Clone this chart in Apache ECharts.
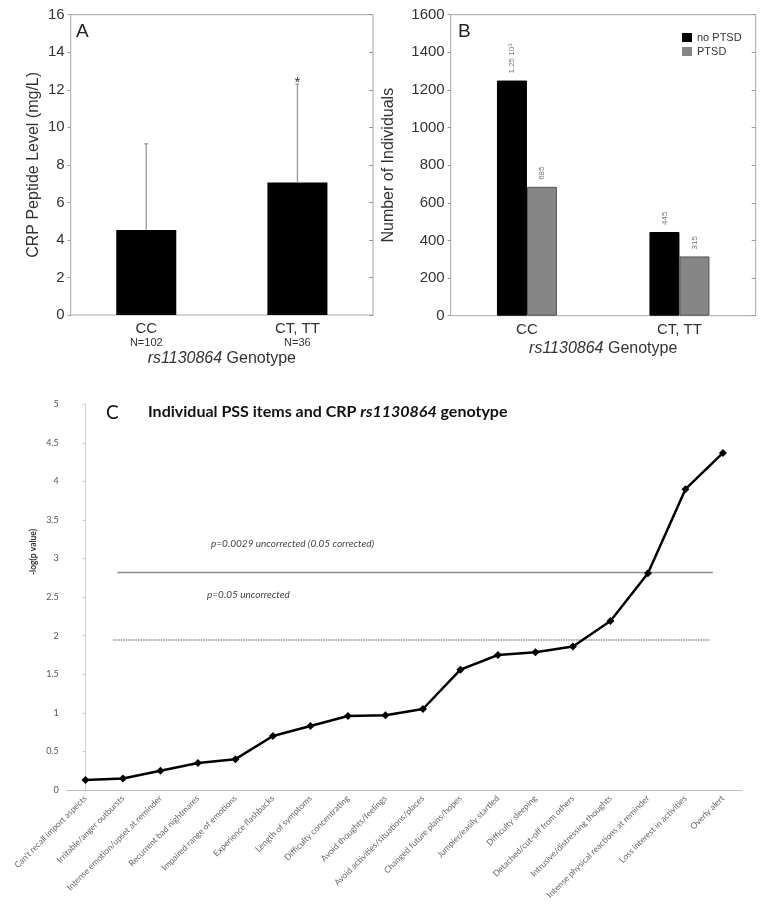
<!DOCTYPE html>
<html><head><meta charset="utf-8">
<script src="https://cdn.jsdelivr.net/npm/echarts@6/dist/echarts.min.js"></script>
<style>html,body{margin:0;padding:0;background:#fff}#c{width:762px;height:919px}</style>
</head><body><div id="c"></div>
<script>
// ---- Panel A data ----
const genotypes = ['CC', 'CT, TT'];
const sampleSizes = ['N=102', 'N=36'];
const crpMean = [4.53, 7.06];
const crpUpper = [9.12, 12.3];
const crpSig = ['', '*'];
// ---- Panel B data ----
const groupNames = ['no PTSD', 'PTSD'];
const countNoPTSD = [1250, 445];
const countPTSD = [685, 315];
// ---- Panel C data ----
const pssItems = [
  "Can't recall import aspects", 'Irritable/anger outbursts', 'Intense emotion/upset at reminder',
  'Recurrent bad nightmares', 'Impaired range of emotions', 'Experience flashbacks',
  'Length of symptoms', 'Difficulty concentrating', 'Avoid thoughts/feelings',
  'Avoid activities/situations/places', 'Changed future plans/hopes', 'Jumpier/easily startled',
  'Difficulty sleeping', 'Detached/cut-off from others', 'Intrusive/distressing thoughts',
  'Intense physical reactions at reminder', 'Loss interest in activities', 'Overly alert'
];
const pssLogP = [0.13, 0.15, 0.25, 0.35, 0.40, 0.70, 0.83, 0.96, 0.97, 1.05, 1.56, 1.75, 1.785, 1.86, 2.19, 2.81, 3.90, 4.37];
const thresholdCorrected = 2.82;
const thresholdUncorrected = 1.945;
const thresholdCorrectedSpan = [0.85, 16.73];
const thresholdUncorrectedSpan = [0.74, 16.64];

const AF = 'Liberation Sans, Arial, sans-serif';
const CF = 'Lato, Open Sans, sans-serif';
const chart = echarts.init(document.getElementById('c'), null, {renderer: 'canvas'});

const boxGrid = {show: true, borderColor: '#a8a8a8', borderWidth: 1, backgroundColor: 'transparent'};

const option = {
  animation: false,
  backgroundColor: '#fff',
  grid: [
    Object.assign({left: 70.7, top: 14.7, width: 302.3, height: 300.3}, boxGrid),
    Object.assign({left: 450.7, top: 14.7, width: 305, height: 301}, boxGrid),
    {left: 66.7, top: 404.3, width: 675, height: 385.7}
  ],
  legend: {
    data: groupNames, orient: 'vertical', left: 677, top: 27, itemWidth: 10, itemHeight: 9, itemGap: 3,
    itemStyle: {borderWidth: 0},
    textStyle: {fontFamily: AF, fontSize: 11, color: '#333'}, icon: 'rect'
  },
  xAxis: [
    {gridIndex: 0, type: 'category', data: genotypes,
      axisLine: {show: false}, axisTick: {inside: true, length: 4, lineStyle: {color: '#999'}},
      axisLabel: {margin: 6, interval: 0,
        formatter: (v, i) => '{a|' + v + '}\n{b|' + sampleSizes[i] + '}',
        rich: {a: {fontFamily: AF, fontSize: 15, lineHeight: 15, color: '#333'},
               b: {fontFamily: AF, fontSize: 11, lineHeight: 13, color: '#333'}}},
      name: '{i|rs1130864} Genotype', nameLocation: 'middle', nameGap: 36,
      nameTextStyle: {fontFamily: AF, fontSize: 16, color: '#333',
        rich: {i: {fontFamily: AF, fontSize: 16, fontStyle: 'italic', color: '#333'}}}},
    {gridIndex: 0, type: 'category', data: genotypes, position: 'top',
      axisLine: {show: false}, axisLabel: {show: false}, axisTick: {inside: true, length: 4, lineStyle: {color: '#999'}}},
    {gridIndex: 1, type: 'category', data: genotypes,
      axisLine: {show: false}, axisTick: {inside: true, length: 4, lineStyle: {color: '#999'}},
      axisLabel: {margin: 7, fontFamily: AF, fontSize: 15, color: '#333'},
      name: '{i|rs1130864} Genotype', nameLocation: 'middle', nameGap: 25,
      nameTextStyle: {fontFamily: AF, fontSize: 16, color: '#333',
        rich: {i: {fontFamily: AF, fontSize: 16, fontStyle: 'italic', color: '#333'}}}},
    {gridIndex: 1, type: 'category', data: genotypes, position: 'top',
      axisLine: {show: false}, axisLabel: {show: false}, axisTick: {inside: true, length: 4, lineStyle: {color: '#999'}}},
    {gridIndex: 2, type: 'category', data: pssItems, boundaryGap: true,
      axisLine: {lineStyle: {color: '#bdbdbd', width: 1}},
      axisTick: {length: 4, lineStyle: {color: '#bdbdbd'}},
      axisLabel: {rotate: 45, interval: 0, margin: 7, fontFamily: CF, fontSize: 8.5, color: '#666'}},
    {gridIndex: 2, type: 'value', min: -0.5, max: 17.5, show: false}
  ],
  yAxis: [
    {gridIndex: 0, type: 'value', min: 0, max: 16, interval: 2,
      axisLine: {show: false}, axisTick: {show: true, length: 3, lineStyle: {color: '#999'}},
      splitLine: {show: false},
      axisLabel: {fontFamily: AF, fontSize: 15, color: '#333', margin: 6},
      name: 'CRP Peptide Level (mg/L)', nameLocation: 'middle', nameGap: 29,
      nameTextStyle: {fontFamily: AF, fontSize: 16, color: '#333'}},
    {gridIndex: 0, type: 'value', min: 0, max: 16, interval: 2, position: 'right',
      axisLine: {show: false}, axisLabel: {show: false}, splitLine: {show: false},
      axisTick: {show: true, inside: true, length: 4, lineStyle: {color: '#999'}}},
    {gridIndex: 1, type: 'value', min: 0, max: 1600, interval: 200,
      axisLine: {show: false}, axisTick: {show: true, length: 3, lineStyle: {color: '#999'}},
      splitLine: {show: false},
      axisLabel: {fontFamily: AF, fontSize: 15, color: '#333', margin: 6, formatter: v => String(v)},
      name: 'Number of Individuals', nameLocation: 'middle', nameGap: 54,
      nameTextStyle: {fontFamily: AF, fontSize: 16, color: '#333'}},
    {gridIndex: 1, type: 'value', min: 0, max: 1600, interval: 200, position: 'right',
      axisLine: {show: false}, axisLabel: {show: false}, splitLine: {show: false},
      axisTick: {show: true, inside: true, length: 4, lineStyle: {color: '#999'}}},
    {gridIndex: 2, type: 'value', min: 0, max: 5, interval: 0.5,
      axisLine: {show: true, lineStyle: {color: '#d0d0d0'}},
      axisTick: {show: true, length: 3, lineStyle: {color: '#d0d0d0'}},
      splitLine: {show: false},
      axisLabel: {fontFamily: CF, fontSize: 9, color: '#555', margin: 8}}
  ],
  series: [
    {type: 'bar', xAxisIndex: 0, yAxisIndex: 0, data: crpMean, barWidth: 60,
      itemStyle: {color: '#000'}, z: 2},
    {type: 'custom', xAxisIndex: 0, yAxisIndex: 0, z: 3,
      data: genotypes.map((g, i) => [i, crpMean[i], crpUpper[i]]),
      renderItem: (params, api) => {
        const b = api.coord([api.value(0), api.value(1)]);
        const t = api.coord([api.value(0), api.value(2)]);
        const ch = [
          {type: 'line', shape: {x1: b[0], y1: b[1], x2: b[0], y2: t[1]}, style: {stroke: '#9a9a9a', lineWidth: 1.3}},
          {type: 'line', shape: {x1: b[0] - 2, y1: t[1], x2: b[0] + 2, y2: t[1]}, style: {stroke: '#9a9a9a', lineWidth: 1.3}}
        ];
        const s = crpSig[params.dataIndex];
        if (s) ch.push({type: 'text', x: b[0], y: t[1] + 6, style: {text: s, textAlign: 'center', align: 'center',
          textVerticalAlign: 'bottom', verticalAlign: 'bottom', fontSize: 15, fontFamily: AF, fill: '#333'}});
        return {type: 'group', children: ch};
      }},
    {type: 'bar', name: groupNames[0], xAxisIndex: 2, yAxisIndex: 2, data: countNoPTSD, barWidth: 30, barGap: '0%',
      itemStyle: {color: '#000', borderColor: '#000', borderWidth: 1},
      label: {show: true, position: 'top', rotate: 90, align: 'left', verticalAlign: 'middle', distance: 7,
        fontFamily: AF, fontSize: 8, color: '#777',
        formatter: p => p.value >= 1000 ? (p.value / 1000).toFixed(2) + ' 10{s|3}' : String(p.value),
        rich: {s: {fontFamily: AF, fontSize: 6, color: '#777', verticalAlign: 'top', padding: [0, 0, 4, 0]}}}},
    {type: 'bar', name: groupNames[1], xAxisIndex: 2, yAxisIndex: 2, data: countPTSD, barWidth: 30, barGap: '0%',
      itemStyle: {color: '#868686', borderColor: '#555', borderWidth: 1},
      label: {show: true, position: 'top', rotate: 90, align: 'left', verticalAlign: 'middle', distance: 7,
        fontFamily: AF, fontSize: 8, color: '#777'}},
    {type: 'line', xAxisIndex: 5, yAxisIndex: 4, symbol: 'none', silent: true,
      data: thresholdCorrectedSpan.map(x => [x, thresholdCorrected]),
      lineStyle: {color: '#8c8c8c', width: 1.6}},
    {type: 'line', xAxisIndex: 5, yAxisIndex: 4, symbol: 'none', silent: true,
      data: thresholdUncorrectedSpan.map(x => [x, thresholdUncorrected]),
      lineStyle: {color: '#8c8c8c', width: 1.6, type: [1.5, 1]}},
    {type: 'line', xAxisIndex: 4, yAxisIndex: 4, data: pssLogP, symbol: 'diamond', symbolSize: 8,
      lineStyle: {color: '#000', width: 2.5}, itemStyle: {color: '#000'}, z: 5}
  ],
  graphic: [
    {type: 'text', left: 76, top: 22, style: {text: 'A', fontFamily: AF, fontSize: 19, fill: '#222'}},
    {type: 'text', left: 458, top: 22, style: {text: 'B', fontFamily: AF, fontSize: 19, fill: '#222'}},
    {type: 'text', left: 106, top: 403, style: {text: 'C', fontFamily: CF, fontSize: 19, fill: '#111'}},
    {type: 'text', left: 148, top: 404, style: {
      text: 'Individual PSS items and CRP {i|rs1130864} genotype', fontFamily: CF, fontSize: 16, fontWeight: 'bold', fill: '#111',
      rich: {i: {fontFamily: CF, fontSize: 16, fontWeight: 'bold', fontStyle: 'italic', fill: '#111'}}}},
    {type: 'text', left: 211, top: 539, style: {text: 'p=0.0029 uncorrected (0.05 corrected)', fontFamily: CF, fontSize: 10, fontStyle: 'italic', fill: '#444'}},
    {type: 'text', left: 207, top: 590, style: {text: 'p=0.05 uncorrected', fontFamily: CF, fontSize: 10, fontStyle: 'italic', fill: '#444'}},
    {type: 'text', x: 33, y: 552, rotation: Math.PI / 2,
      style: {text: '-log(p value)', fontFamily: CF, fontSize: 8.5, fontWeight: 'bold', fill: '#333', align: 'center', verticalAlign: 'middle'}}
  ]
};
chart.setOption(option);
</script></body></html>
